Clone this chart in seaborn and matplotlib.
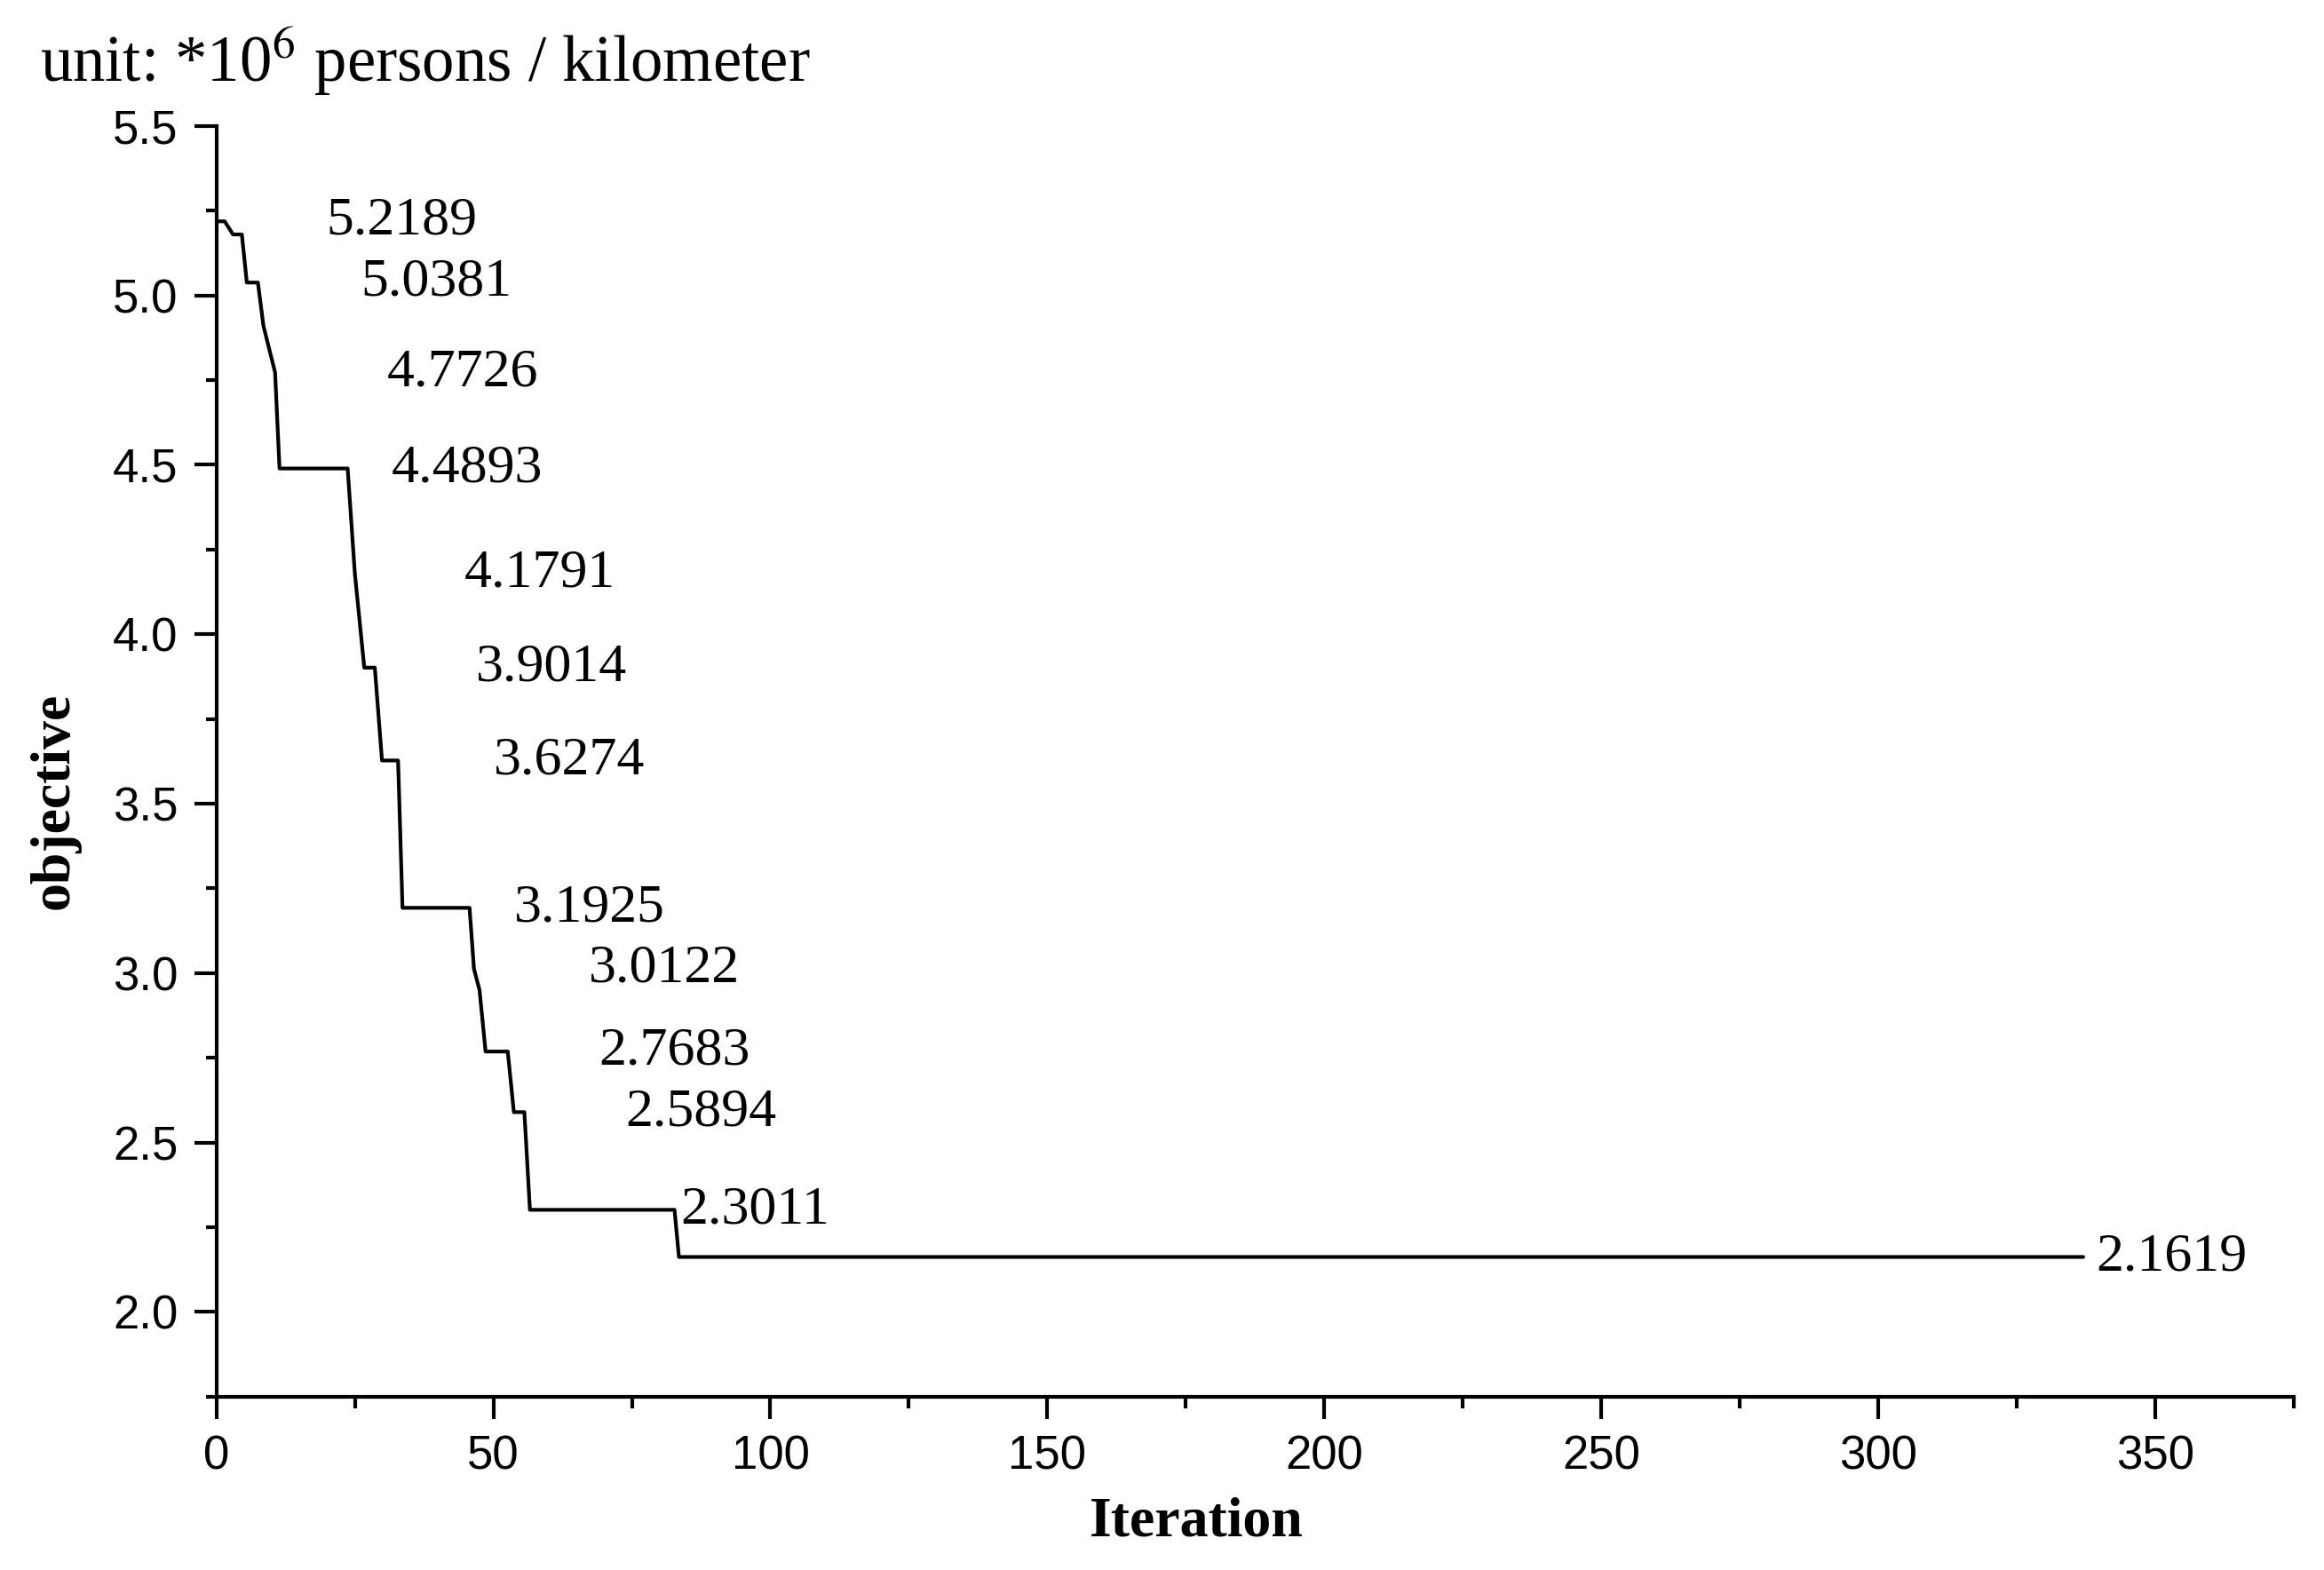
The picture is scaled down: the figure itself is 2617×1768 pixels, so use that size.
import matplotlib
matplotlib.use('Agg')
import matplotlib.pyplot as plt
import seaborn as sns
import pandas as pd
from matplotlib.ticker import MultipleLocator

# ---- data ----
iterations = [0, 1.5, 3, 4.6, 5.5, 7.5, 8.5, 10.6, 11.4, 23.7, 25.0, 26.7, 28.6,
              29.9, 32.8, 33.6, 45.7, 46.5, 47.5, 48.6, 52.6, 53.7, 55.6, 56.6,
              82.7, 83.5, 337]
objective = [5.2189, 5.2189, 5.18, 5.18, 5.0381, 5.0381, 4.91, 4.7726, 4.4893,
             4.4893, 4.1791, 3.9014, 3.9014, 3.6274, 3.6274, 3.1925, 3.1925,
             3.0122, 2.95, 2.7683, 2.7683, 2.5894, 2.5894, 2.3011, 2.3011,
             2.1619, 2.1619]

label_values = [5.2189, 5.0381, 4.7726, 4.4893, 4.1791, 3.9014, 3.6274,
                3.1925, 3.0122, 2.7683, 2.5894, 2.3011, 2.1619]
label_x = [19.8, 26.0, 30.8, 31.6, 44.7, 46.9, 50.1, 53.8, 67.2, 69.1, 73.9,
           83.8, 339.3]

x_ticks = [0, 50, 100, 150, 200, 250, 300, 350]
y_ticks = [2.0, 2.5, 3.0, 3.5, 4.0, 4.5, 5.0, 5.5]

df = pd.DataFrame({'Iteration': iterations, 'objective': objective})

sns.set_theme(style='ticks')
plt.rcParams['font.family'] = ['Liberation Serif', 'DejaVu Serif']
plt.rcParams['mathtext.fontset'] = 'stix'

fig = plt.figure(figsize=(2617 / 200, 1768 / 200), dpi=200)
ax = fig.add_axes([0.0931, 0.1105, 0.987 - 0.0931, 0.9197 - 0.1105])

sns.lineplot(data=df, x='Iteration', y='objective', estimator=None, sort=False,
             color='black', linewidth=1.5, ax=ax)

for xv, v in zip(label_x, label_values):
    ax.text(xv, v, f'{v:.4f}', ha='left', va='center', fontsize=22.3,
            family=['Liberation Serif', 'DejaVu Serif'], color='black')

ax.set_xlim(0, 375)
ax.set_ylim(1.75, 5.5)
ax.set_xticks(x_ticks)
ax.set_yticks(y_ticks)
ax.set_yticklabels([f'{t:.1f}' for t in y_ticks])
ax.xaxis.set_minor_locator(MultipleLocator(25))
ax.yaxis.set_minor_locator(MultipleLocator(0.25))

for s in ['top', 'right']:
    ax.spines[s].set_visible(False)
for s in ['left', 'bottom']:
    ax.spines[s].set_linewidth(1.5)
    ax.spines[s].set_color('black')

ax.tick_params(which='major', direction='out', length=9, width=1.5,
               color='black', labelsize=19, pad=6.5, labelcolor='black')
ax.tick_params(which='minor', direction='out', length=4.5, width=1.5,
               color='black')
for lab in ax.get_xticklabels() + ax.get_yticklabels():
    lab.set_family(['Liberation Sans', 'DejaVu Sans'])

ax.set_xlabel('Iteration', fontsize=23, fontweight='bold', color='black')
ax.set_ylabel('objective', fontsize=23, fontweight='bold', color='black')
ax.xaxis.set_label_coords(0.472, -0.099)
ax.xaxis.label.set_va('center')
ax.yaxis.set_label_coords(-0.078, 0.469)
ax.yaxis.label.set_va('center')
ax.yaxis.label.set_ha('center')

fig.text(0.0172, 0.9487, r'unit: *10$^{6}$ persons / kilometer', fontsize=26.2,
         ha='left', va='baseline', color='black')

fig.savefig('out.png', dpi=200, facecolor='white')
